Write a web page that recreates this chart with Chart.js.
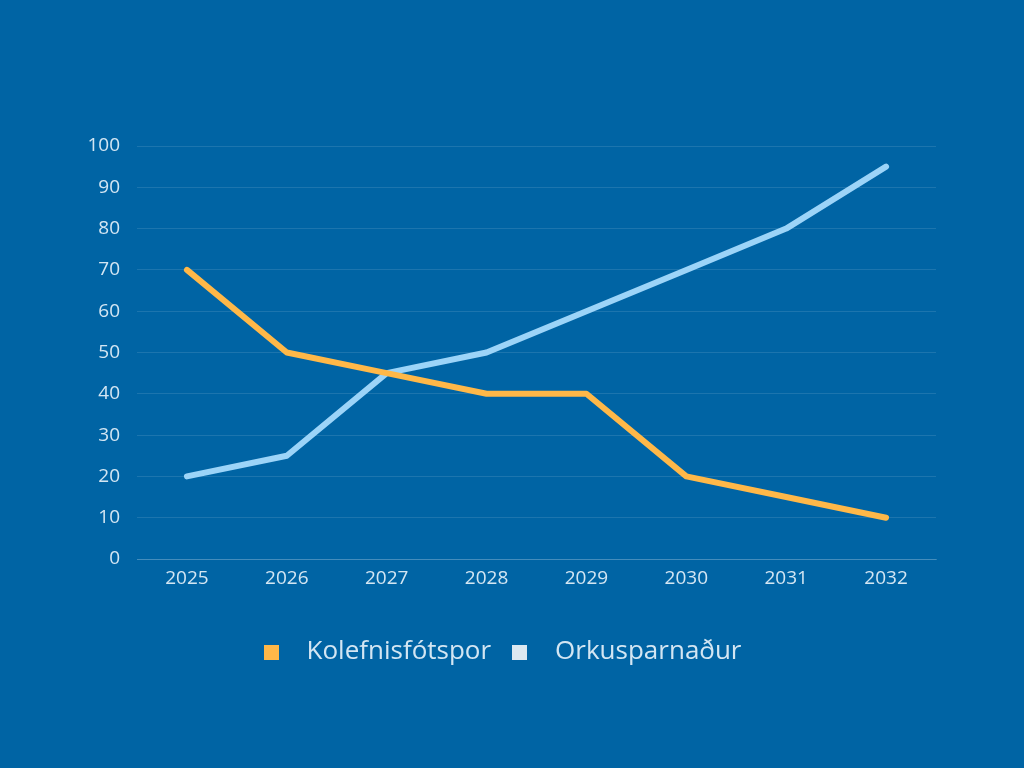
<!DOCTYPE html>
<html>
<head>
<meta charset="utf-8">
<script src="https://cdn.jsdelivr.net/npm/chart.js@4"></script>
<style>
  html, body { margin: 0; padding: 0; background: #0064a4; }
  #wrap { width: 1024px; height: 768px; }
</style>
</head>
<body>
<div id="wrap"><canvas id="myChart" width="1024" height="768"></canvas></div>
<script>
const years = ["2025", "2026", "2027", "2028", "2029", "2030", "2031", "2032"];
const kolefni = [70, 50, 45, 40, 40, 20, 15, 10];
const orka = [20, 25, 45, 50, 60, 70, 80, 95];
const yTicks = [0, 10, 20, 30, 40, 50, 60, 70, 80, 90, 100];

const textColor = "#d3e6f3";
const gridColor = "rgba(255,255,255,0.11)";
const fontFamily = "'Open Sans', sans-serif";

// small square used as legend marker
function square(color) {
  const c = document.createElement("canvas");
  c.width = 15;
  c.height = 15;
  const g = c.getContext("2d");
  g.fillStyle = color;
  g.fillRect(0, 0, 15, 15);
  return c;
}

const config = {
  type: "line",
  data: {
    labels: years,
    datasets: [
      {
        label: "Kolefnisfótspor",
        data: kolefni,
        borderColor: "#ffb848",
        backgroundColor: "#ffb848",
        borderWidth: 6,
        borderCapStyle: "round",
        borderJoinStyle: "round",
        pointRadius: 0,
        tension: 0,
      },
      {
        label: "Orkusparnaður",
        data: orka,
        borderColor: "#9cd4f8",
        backgroundColor: "#dbe8f1",
        borderWidth: 6,
        borderCapStyle: "round",
        borderJoinStyle: "round",
        pointRadius: 0,
        tension: 0,
      },
    ],
  },
  options: {
    responsive: false,
    animation: false,
    layout: { padding: { top: 146, left: 54, right: 88, bottom: 93 } },
    plugins: {
      tooltip: { enabled: false },
      legend: {
        position: "bottom",
        labels: {
          color: textColor,
          font: { family: fontFamily, size: 26 },
          usePointStyle: true,
          pointStyleWidth: 45,
          boxHeight: 15,
          padding: 6,
          generateLabels: (chart) => {
            const items = Chart.defaults.plugins.legend.labels.generateLabels(chart);
            return items.map((it) => {
              it.pointStyle = square(it.fillStyle);
              return it;
            });
          },
        },
      },
    },
    scales: {
      x: {
        offset: true,
        grid: { display: false },
        border: { display: true, color: "rgba(255,255,255,0.18)" },
        ticks: {
          color: textColor,
          font: { family: fontFamily, size: 19 },
          padding: 0,
        },
        afterFit: (axis) => {
          axis.height = 74;
        },
      },
      y: {
        min: 0,
        max: 100,
        afterBuildTicks: (axis) => {
          axis.ticks = yTicks.map((v) => ({ value: v }));
        },
        afterFit: (axis) => {
          axis.width = 83;
        },
        grid: { color: gridColor, drawTicks: false },
        border: { display: false },
        ticks: {
          color: textColor,
          font: { family: fontFamily, size: 19 },
          padding: 17,
        },
      },
    },
  },
};

const ctx = document.getElementById("myChart").getContext("2d");
new Chart(ctx, config);
</script>
</body>
</html>
